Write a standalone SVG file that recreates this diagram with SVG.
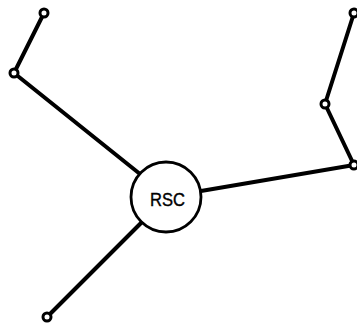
<svg xmlns="http://www.w3.org/2000/svg" width="357" height="326" viewBox="0 0 357 326">
  <style>
    .link { stroke: #000; stroke-width: 4; stroke-linecap: round; fill: none; }
    .term { fill: #fff; stroke: #000; stroke-width: 3; }
    .hub { fill: #fff; stroke: #000; stroke-width: 2.8; }
    .label { font-family: "Liberation Sans", Arial, sans-serif; font-size: 19px; fill: #000; stroke: #000; stroke-width: 0.4; text-anchor: middle; }
  </style>
  <rect width="357" height="326" fill="#fff"/>
  <g id="connectors">
    <line class="link" x1="44" y1="13" x2="14" y2="73"/>
    <line class="link" x1="14" y1="73" x2="140" y2="174"/>
    <line class="link" x1="354" y1="13" x2="325" y2="104"/>
    <line class="link" x1="325" y1="104" x2="354" y2="165"/>
    <line class="link" x1="354" y1="165" x2="201" y2="191"/>
    <line class="link" x1="141" y1="223" x2="47" y2="317"/>
  </g>
  <g id="rsc">
    <circle class="hub" cx="166" cy="197" r="35"/>
    <text class="label" x="167.5" y="206" textLength="35" lengthAdjust="spacingAndGlyphs">RSC</text>
  </g>
  <g id="t1"><circle class="term" cx="44" cy="13" r="4"/></g>
  <g id="t2"><circle class="term" cx="14" cy="73" r="4"/></g>
  <g id="t3"><circle class="term" cx="354" cy="13" r="4"/></g>
  <g id="t4"><circle class="term" cx="325" cy="104" r="4"/></g>
  <g id="t5"><circle class="term" cx="354" cy="165" r="4"/></g>
  <g id="t6"><circle class="term" cx="47" cy="317" r="4"/></g>
</svg>
